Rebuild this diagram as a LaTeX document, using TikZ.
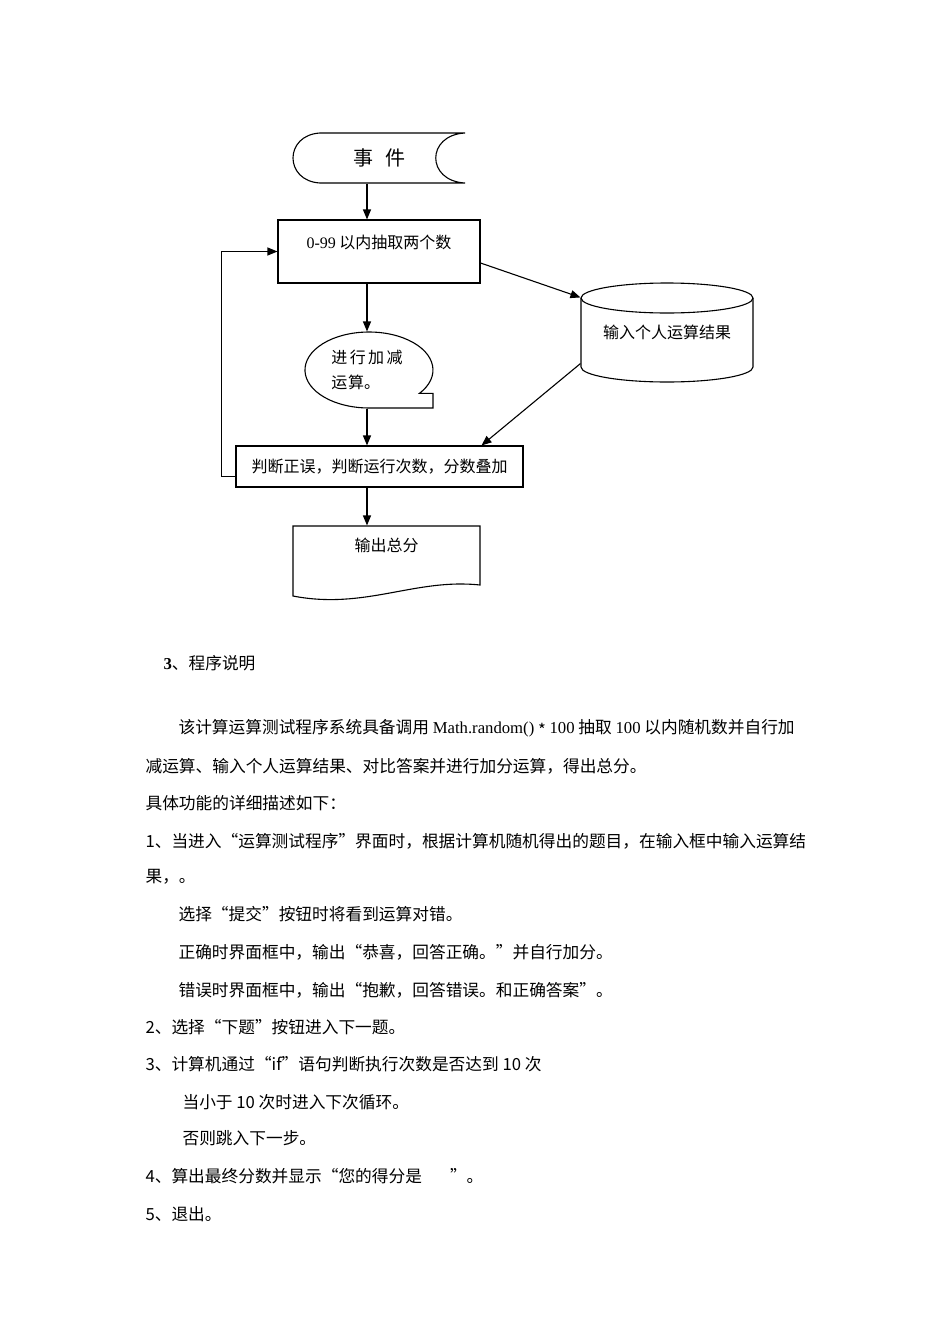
\documentclass[tikz,border=0pt]{standalone}
\usepackage{fontspec}
\setmainfont{Noto Sans CJK SC}
\newfontfamily\lat{Liberation Serif}
\usetikzlibrary{arrows.meta}
\newcommand\bodysize{\fontsize{16.7}{20}\selectfont}
\newcommand\chartsize{\fontsize{16}{25}\selectfont}

\begin{document}
\begin{tikzpicture}[x=1pt, y=-1pt, line width=1.1pt, >={Triangle[length=10pt,width=8pt]},
        txt/.style={anchor=west, inner sep=0pt, font=\bodysize}]
                        \fill[white] (0,0) rectangle (950,1344);

                        % flow chart
                        \node (E) at (379,158) [minimum width=172pt, minimum height=50pt, font=\fontsize{20}{24}\selectfont] {事\hspace{0.6em}件};
                        \node (R) at (379,251.5) [draw, minimum width=202pt, minimum height=63pt, inner sep=0pt, text height=28pt, text depth=35pt, font=\chartsize] {{\lat 0-99} 以内抽取两个数};
                        \node (S) at (667,332.5) [minimum width=172pt, minimum height=99pt, font=\chartsize] {输入个人运算结果};
                        \node (B) at (367,370) [minimum width=130pt, minimum height=76pt, align=left, font=\chartsize] {进\hspace{2.5pt}行\hspace{2.5pt}加\hspace{2.5pt}减\\运\hspace{1pt}算。};
                        \node (J) at (379.5,466.5) [draw, minimum width=287pt, minimum height=41pt, font=\chartsize] {判断正误，判断运行次数，分数叠加};
                        \node (O) at (386.5,561) [minimum width=187pt, minimum height=70pt, inner sep=0pt, text height=25pt, text depth=45pt, font=\chartsize] {输出总分};

                        \draw (320,133) -- (465,133) .. controls (426,135) and (426,181) .. (465,183) -- (320,183) .. controls (284,181) and (284,135) .. (320,133);
                        \draw (667,298) ellipse [x radius=86, y radius=15];
                        \draw (581,298) -- (581,367) arc [start angle=180, end angle=0, x radius=86, y radius=15] -- (753,298);
                        \draw (419.4,393.4) arc [start angle=38, end angle=-270, x radius=64, y radius=38] -- (433,408) -- (433,393.4) -- cycle;
                        \draw (293,526) -- (480,526) -- (480,585) .. controls (415,578) and (365,610) .. (293,596) -- cycle;

                        \draw[->] (E.south -| B.north) -- (R.north -| B.north);
                        \draw[->] (R.south -| B.north) -- (B.north);
                        \draw[->] (B.south) -- (B.south |- J.north);
                        \draw[->] (J.south -| B.north) -- (O.north -| B.north);
                        \draw[->] ([yshift=-11.5pt]R.east) -- ([yshift=-15pt]S.north west);
                        \draw[->] ([yshift=19pt]S.south west) -- ([xshift=102pt]J.north);
                        \draw[->] ([yshift=-10pt]J.west) -- ++(-14,0) |- (R.west);

                        % text below
                        \node[txt] (t1) at (163,663) {{\lat\bfseries 3}、程序说明};
                        \node[txt] (t2) at (178,728) {该计算运算测试程序系统具备调用 {\lat Math.random()} \raisebox{-3pt}{*} {\lat 100} 抽取 {\lat 100} 以内随机数并自行加};
                        \node[txt] (t3) at (145,766) {减运算、输入个人运算结果、对比答案并进行加分运算，得出总分。};
                        \node[txt] (t4) at (145,803) {具体功能的详细描述如下：};
                        \node[txt] (t5) at (145,841) {1、当进入“运算测试程序”界面时，根据计算机随机得出的题目，在输入框中输入运算结};
                        \node[txt] (t6) at (145,877) {果，。};
                        \node[txt] (t7) at (178,914) {选择“提交”按钮时将看到运算对错。};
                        \node[txt] (t8) at (178,952) {正确时界面框中，输出“恭喜，回答正确。”并自行加分。};
                        \node[txt] (t9) at (178,990) {错误时界面框中，输出“抱歉，回答错误。和正确答案”。};
                        \node[txt] (t10) at (145,1027) {2、选择“下题”按钮进入下一题。};
                        \node[txt] (t11) at (145,1064) {3、计算机通过“if”语句判断执行次数是否达到 10 次};
                        \node[txt] (t12) at (182,1102) {当小于 10 次时进入下次循环。};
                        \node[txt] (t13) at (182,1138) {否则跳入下一步。};
                        \node[txt] (t14) at (145,1176) {4、算出最终分数并显示“您的得分是\hspace{28pt}”。};
                        \node[txt] (t15) at (145,1214) {5、退出。};
                    \end{tikzpicture}
\end{document}
